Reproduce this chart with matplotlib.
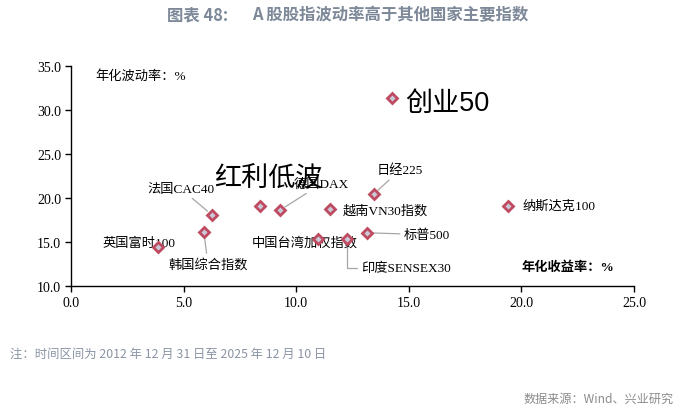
import matplotlib
matplotlib.use("Agg")
import matplotlib.pyplot as plt

# ---- data (annualised return %, annualised volatility %) ----
names = ["创业50", "日经225", "越南VN30指数", "纳斯达克100", "标普500",
         "印度SENSEX30", "中国台湾加权指数", "德国DAX", "红利低波",
         "法国CAC40", "韩国综合指数", "英国富时100"]
ret = [14.25, 13.45, 11.5, 19.4, 13.15, 12.25, 10.95, 9.3, 8.4, 6.25, 5.9, 3.85]
vol = [31.35, 20.45, 18.75, 19.1, 16.05, 15.35, 15.35, 18.65, 19.1, 18.1, 16.15, 14.45]

x_ticks = [0.0, 5.0, 10.0, 15.0, 20.0, 25.0]
y_ticks = [10.0, 15.0, 20.0, 25.0, 30.0, 35.0]

# label layout: (dx px, dy px, ha, leader?, connection, size, family)
SERIF = ["Liberation Serif", "Noto Sans CJK SC"]
SANS = ["Liberation Sans", "Noto Sans CJK SC"]
layout = {
    "创业50":       (13, -5, "left", False, None, 19.5, SANS),
    "日经225":      (26, 24, "center", True, None, 9.5, SERIF),
    "越南VN30指数": (13, -1, "left", False, None, 9.5, SERIF),
    "纳斯达克100":  (15, 0, "left", False, None, 9.5, SERIF),
    "标普500":      (37, -2, "left", True, None, 9.5, SERIF),
    "印度SENSEX30": (14, -29, "left", True, "angle,angleA=0,angleB=90,rad=0", 9.5, SERIF),
    "中国台湾加权指数": (-13, -3, "center", False, None, 9.5, SERIF),
    "德国DAX":      (41, 26, "center", True, None, 9.5, SERIF),
    "红利低波":     (8, 27, "center", False, None, 19.5, SANS),
    "法国CAC40":    (-31, 26, "center", True, None, 9.5, SERIF),
    "韩国综合指数": (4, -32, "center", True, None, 9.5, SERIF),
    "英国富时100":  (-19, 4, "center", False, None, 9.5, SERIF),
}

fig = plt.figure(figsize=(6.94, 4.10), dpi=100)
ax = fig.add_axes([71 / 694, 1 - 287 / 410, 563 / 694, 220 / 410])

# labels first so markers sit on top
for n, x, y in zip(names, ret, vol):
    dx, dy, ha, lead, conn, fs, fam = layout[n]
    ap = None
    if lead:
        ap = dict(arrowstyle="-", color="#a6a6a6", lw=0.9, shrinkA=1, shrinkB=4,
                  connectionstyle=conn or "arc3")
    ax.annotate(n, xy=(x, y), xytext=(dx, dy), textcoords="offset pixels",
                ha=ha, va="center", fontsize=fs, family=fam, color="black",
                arrowprops=ap, zorder=2)

ax.plot(ret, vol, linestyle="none", marker="D", markersize=5,
        markerfacecolor="#c9c9d9", markeredgecolor="#bf4b60", markeredgewidth=2,
        zorder=3)

ax.set_xlim(0, 25)
ax.set_ylim(10, 35)
ax.set_xticks(x_ticks)
ax.set_yticks(y_ticks)
ax.set_xticklabels([f"{v:.1f}" for v in x_ticks], family="Liberation Serif", fontsize=10)
ax.set_yticklabels([f"{v:.1f}" for v in y_ticks], family="Liberation Serif", fontsize=10)
ax.tick_params(direction="out", length=4, width=1, color="black", pad=3)
for s in ["top", "right"]:
    ax.spines[s].set_visible(False)
for s in ["left", "bottom"]:
    ax.spines[s].set_linewidth(1.0)

ax.text(0.044, 0.955, "年化波动率：%", transform=ax.transAxes, ha="left", va="center",
        fontsize=9.5, family=SERIF)
ax.text(0.801, 0.086, "年化收益率：%", transform=ax.transAxes, ha="left", va="center",
        fontsize=9.5, family=SERIF, fontweight="bold")

# title, note, source
fig.text(167 / 694, 1 - 15 / 410, "图表 48:", ha="left", va="center", fontsize=11.8,
         fontweight="bold", color="#7d8898", family=["Noto Sans CJK SC"])
fig.text(252 / 694, 1 - 15 / 410, "A 股股指波动率高于其他国家主要指数", ha="left", va="center",
         fontsize=11.8, fontweight="bold", color="#7d8898", family=["Noto Sans CJK SC"])
fig.text(10 / 694, 1 - 354 / 410, "注：时间区间为 2012 年 12 月 31 日至 2025 年 12 月 10 日",
         ha="left", va="center", fontsize=8.9, color="#8a94a4", family=["Noto Sans CJK SC"])
fig.text(674 / 694, 1 - 399 / 410, "数据来源：Wind、兴业研究", ha="right", va="center",
         fontsize=8.7, color="#8c8c8c", family=["Noto Sans CJK SC"])

fig.savefig("out.png", dpi=100)
